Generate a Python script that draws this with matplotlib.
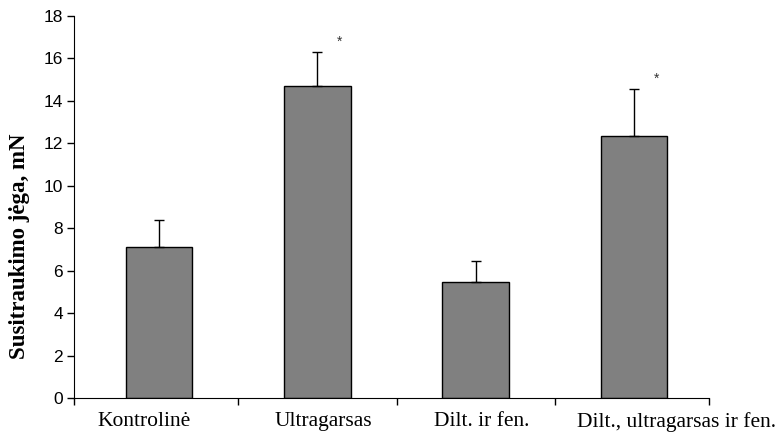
import numpy as np
import matplotlib
matplotlib.use("Agg")
import matplotlib.pyplot as plt
from matplotlib.transforms import ScaledTranslation

# Grupės ir vidutinės susitraukimo jėgos reikšmės (mN)
groups = ["Kontrolinė", "Ultragarsas", "Dilt. ir fen.", "Dilt., ultragarsas ir fen."]
means = [7.12, 14.7, 5.48, 12.33]
errors = [1.28, 1.6, 0.98, 2.22]
significant = [False, True, False, True]
y_ticks = [0, 2, 4, 6, 8, 10, 12, 14, 16, 18]

# pavadinimų poslinkis horizontaliai (px)
label_shift = [-15, 6, 6, 43]

fig = plt.figure(figsize=(7.79, 4.34), dpi=100)
ax = fig.add_axes([0.095, 0.083, 0.815, 0.880])

x = np.arange(len(groups))
ax.bar(x, means, width=0.42, color="#808080", edgecolor="black", linewidth=1.0, zorder=2)
ax.errorbar(x, means, yerr=[np.zeros(len(means)), errors], fmt="none",
            ecolor="black", elinewidth=1.0, capsize=3.5, capthick=1.0, zorder=3)

# žvaigždutės prie reikšmingų skirtumų
for xi, m, e, sig in zip(x, means, errors, significant):
    if sig:
        ax.text(xi + 0.14, m + e + 0.15, "*", ha="center", va="bottom",
                fontsize=10, family="Liberation Sans", color="#333333")

x_lo, x_hi = -0.538, 3.474
ax.set_xlim(x_lo, x_hi)
ax.set_ylim(0, 18)
ax.set_yticks(y_ticks)
ax.set_yticklabels([str(t) for t in y_ticks], family="Liberation Sans", fontsize=12.5)

ax.set_xticks(x)
ax.set_xticklabels(groups, family="Liberation Serif", fontsize=15.5)
ax.tick_params(axis="x", which="major", length=0, pad=10)
ax.set_xticks([x_lo, 0.5, 1.5, 2.5, x_hi], minor=True)
ax.tick_params(axis="x", which="minor", length=5, width=1, direction="out")
ax.tick_params(axis="y", length=5, width=1, direction="out", pad=3)

for lbl, dx in zip(ax.get_xticklabels(), label_shift):
    lbl.set_transform(lbl.get_transform() + ScaledTranslation(dx / 100, 0, fig.dpi_scale_trans))

ax.set_ylabel("Susitraukimo jėga, mN", family="Liberation Serif", fontsize=16.5,
              fontweight="bold")
ax.yaxis.set_label_coords(-0.069, 0.398)

ax.spines["top"].set_visible(False)
ax.spines["right"].set_visible(False)

fig.savefig("out.png", dpi=100)
